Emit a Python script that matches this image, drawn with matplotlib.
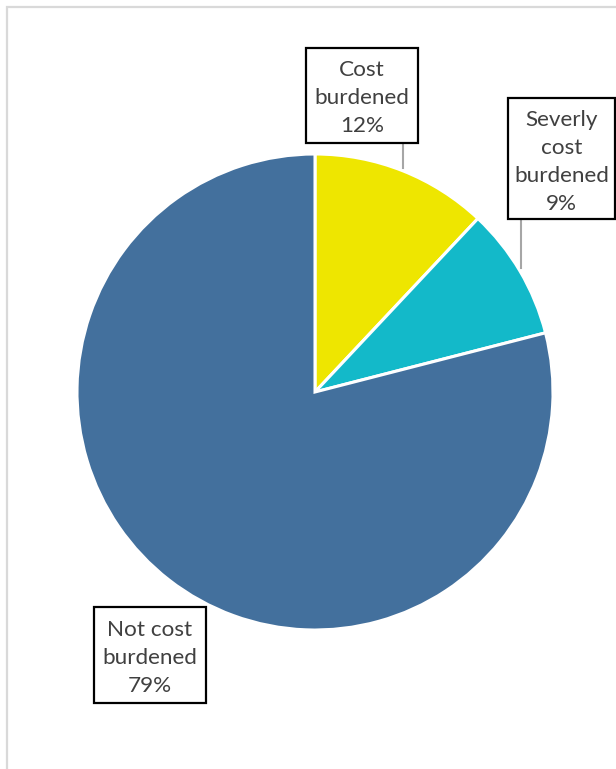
import matplotlib.pyplot as plt
from matplotlib.patches import Rectangle

# Housing cost burden shares
categories = ["Cost\nburdened", "Severly\ncost\nburdened", "Not cost\nburdened"]
shares = [12, 9, 79]
colors = ["#EEE600", "#13B9C9", "#43709D"]

W, H = 616, 769
fig = plt.figure(figsize=(W / 100, H / 100), dpi=100)
ax = fig.add_axes([0, 0, 1, 1])

def Y(y):
    # top-down pixel coordinate to axis coordinate
    return H - y

wedges, _ = ax.pie(
    shares,
    colors=colors,
    startangle=90,
    counterclock=False,
    center=(315, Y(392)),
    radius=238,
    wedgeprops=dict(edgecolor="white", linewidth=2.2),
)

ax.set_xlim(0, W)
ax.set_ylim(0, H)
ax.set_aspect("equal")
ax.axis("off")

# chart-area outline
ax.add_patch(Rectangle((7, -20), W + 20, Y(7) + 20, fill=False,
                       edgecolor="#D9D9D9", linewidth=1.6, zorder=0))

text_color = "#404040"
font = dict(family="Lato", size=16.2, color=text_color)

# label boxes: (x0, y0, x1, y1) in top-down pixels, leader line (x, y_from, y_to) or None
boxes = [
    ((306, 48, 418, 143), (403, 143, 168)),
    ((508, 98, 615, 219), (521, 219, 268)),
    ((94, 607, 206, 703), None),
]

for (label, share), (box, leader) in zip(zip(categories, shares), boxes):
    x0, y0, x1, y1 = box
    ax.add_patch(Rectangle((x0, Y(y1)), x1 - x0, y1 - y0, facecolor="white",
                           edgecolor="black", linewidth=1.6, zorder=5))
    ax.text((x0 + x1) / 2, Y((y0 + y1) / 2) - 3, f"{label}\n{share}%",
            ha="center", va="center", linespacing=1.5, zorder=6, **font)
    if leader is not None:
        lx, ly0, ly1 = leader
        ax.plot([lx, lx], [Y(ly0), Y(ly1)], color="#A6A6A6", linewidth=1.5, zorder=4)

fig.savefig("out.png", dpi=100, facecolor="white")
